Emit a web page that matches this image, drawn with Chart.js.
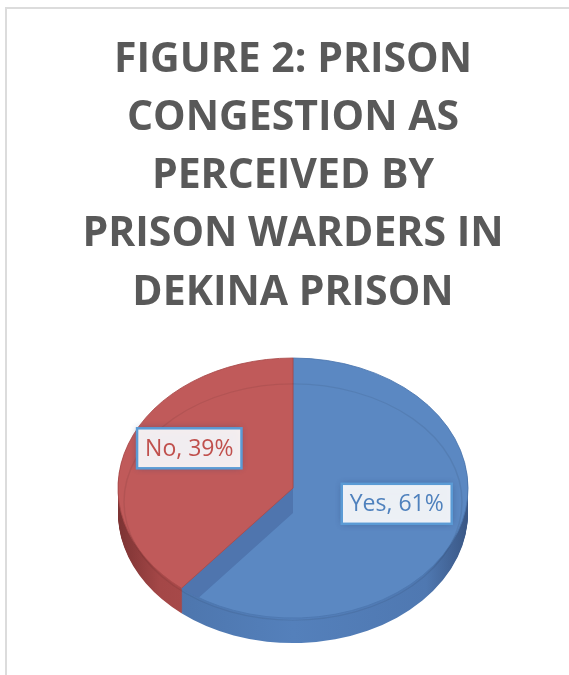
<!doctype html>
<html>

<head>
    <title>Prison congestion as perceived by prison warders in Dekina Prison</title>
    <script src="https://cdn.jsdelivr.net/npm/chart.js@4.4.1/dist/chart.umd.min.js"></script>
    <style>
    body {
        margin: 0;
        background: #fff;
    }
    #frame {
        position: absolute;
        left: 5px;
        top: 7px;
        width: 600px;
        height: 700px;
        border-left: 2px solid #dcdcdc;
        border-top: 2px solid #dcdcdc;
    }
    #container {
        position: absolute;
        left: 0;
        top: 0;
        width: 569px;
        height: 675px;
    }
    </style>
</head>

<body>
    <div id="frame"></div>
    <div id="container">
        <canvas id="canvas"></canvas>
    </div>

    <script>
        var TITLE_LINES = ['FIGURE 2: PRISON', 'CONGESTION AS', 'PERCEIVED BY', 'PRISON WARDERS IN', 'DEKINA PRISON'];
        var CATEGORIES = ['Yes', 'No'];
        var PERCENTS = [61, 39];
        var TOP_COLORS = ['#5b88c2', '#c05a5a'];
        var EDGE_COLORS = ['#4d77b0', '#aa4b4b'];
        var TEXT_COLORS = ['#4f81bd', '#c0504d'];

        // gradient stops for the rim of each slice (dark at the far edges)
        var SIDE_STOPS = [
            ['#3c5b8a', '#4c74ab', '#5480bb', '#4f78b1', '#3a5785'],
            ['#7c3333', '#a44747', '#b35151', '#a84a4a', '#7c3333']
        ];

        function squash(ctx, cx, cy, k) {
            ctx.translate(cx, cy);
            ctx.scale(1, k);
            ctx.translate(-cx, -cy);
        }

        // draw an arc element with some of its options swapped out
        function drawArcWith(arc, ctx, overrides) {
            var el = Object.create(arc);
            el.options = Object.assign({}, arc.options, overrides);
            arc.draw.call(el, ctx);
        }

        var pie3d = {
            id: 'pie3d',
            beforeDatasetsDraw: function(chart, args, opts) {
                var ctx = chart.ctx;
                var arcs = chart.getDatasetMeta(0).data;
                var cx = arcs[0].x, cy = arcs[0].y, r = arcs[0].outerRadius;
                var k = opts.tilt, depth = opts.depth;

                var sides = SIDE_STOPS.map(function(stops) {
                    var g = ctx.createLinearGradient(cx - r, 0, cx + r, 0);
                    g.addColorStop(0, stops[0]);
                    g.addColorStop(0.12, stops[1]);
                    g.addColorStop(0.5, stops[2]);
                    g.addColorStop(0.88, stops[3]);
                    g.addColorStop(1, stops[4]);
                    return g;
                });

                // extruded rim
                for (var d = depth; d > 0; d--) {
                    ctx.save();
                    ctx.translate(0, d);
                    squash(ctx, cx, cy, k);
                    arcs.forEach(function(arc, i) {
                        drawArcWith(arc, ctx, { backgroundColor: sides[i], borderWidth: 0 });
                    });
                    ctx.restore();
                }

                // top faces
                ctx.save();
                squash(ctx, cx, cy, k);
                arcs[0].draw(ctx);

                // cut face of the second slice showing through the first one
                ctx.save();
                ctx.beginPath();
                ctx.moveTo(cx, cy);
                ctx.arc(cx, cy, r, arcs[0].startAngle, arcs[0].endAngle);
                ctx.closePath();
                ctx.clip();
                for (var d2 = 1; d2 <= depth; d2++) {
                    ctx.save();
                    ctx.translate(0, d2 / k);
                    drawArcWith(arcs[1], ctx, { backgroundColor: '#4f75ae', borderWidth: 0 });
                    ctx.restore();
                }
                ctx.restore();

                arcs[1].draw(ctx);

                // faint bevel line inside the rim
                ctx.beginPath();
                ctx.ellipse(cx, cy + 14 / k, r - 6, r - 16, 0, 0, Math.PI * 2);
                ctx.strokeStyle = 'rgba(0,0,0,0.07)';
                ctx.lineWidth = 1.5;
                ctx.stroke();
                ctx.restore();
                return false;
            },
            afterDraw: function(chart, args, opts) {
                var ctx = chart.ctx;
                var arcs = chart.getDatasetMeta(0).data;
                var k = opts.tilt;
                ctx.save();
                ctx.font = '23px "Open Sans", sans-serif';
                ctx.textAlign = 'center';
                ctx.textBaseline = 'middle';
                arcs.forEach(function(arc, i) {
                    var mid = (arc.startAngle + arc.endAngle) / 2;
                    var dist = arc.outerRadius * opts.labelRadius;
                    var x = arc.x + Math.cos(mid) * dist;
                    var y = arc.y + Math.sin(mid) * dist * k + opts.labelLift;
                    var text = CATEGORIES[i] + ', ' + PERCENTS[i] + '%';
                    var w = ctx.measureText(text).width + 16;
                    var h = 40;
                    ctx.save();
                    ctx.shadowColor = 'rgba(40,60,110,0.55)';
                    ctx.shadowBlur = 7;
                    ctx.fillStyle = 'rgba(255,255,255,0.9)';
                    ctx.fillRect(x - w / 2, y - h / 2, w, h);
                    ctx.restore();
                    ctx.lineWidth = 2.5;
                    ctx.strokeStyle = '#5b9bd5';
                    ctx.strokeRect(x - w / 2, y - h / 2, w, h);
                    ctx.fillStyle = TEXT_COLORS[i];
                    ctx.fillText(text, x, y + 1);
                });
                ctx.restore();
            }
        };

        window.onload = function() {
            var ctx = document.getElementById('canvas').getContext('2d');
            window.myPie = new Chart(ctx, {
                type: 'pie',
                data: {
                    labels: CATEGORIES,
                    datasets: [{
                        data: PERCENTS,
                        backgroundColor: TOP_COLORS,
                        borderColor: EDGE_COLORS,
                        borderWidth: 1,
                        radius: 175
                    }]
                },
                plugins: [pie3d],
                options: {
                    responsive: true,
                    maintainAspectRatio: false,
                    animation: false,
                    events: [],
                    layout: {
                        padding: { left: 17, right: 0, top: 0, bottom: 29 }
                    },
                    plugins: {
                        legend: { display: false },
                        tooltip: { enabled: false },
                        title: {
                            display: true,
                            text: TITLE_LINES,
                            color: '#595959',
                            font: {
                                family: '"Open Sans", sans-serif',
                                size: 41,
                                weight: 'bold',
                                lineHeight: 1.42
                            },
                            padding: { top: 31, bottom: 8 }
                        },
                        pie3d: {
                            tilt: 0.743,
                            depth: 25,
                            labelRadius: 0.63,
                            labelLift: -12
                        }
                    }
                }
            });
        };
    </script>
</body>

</html>
